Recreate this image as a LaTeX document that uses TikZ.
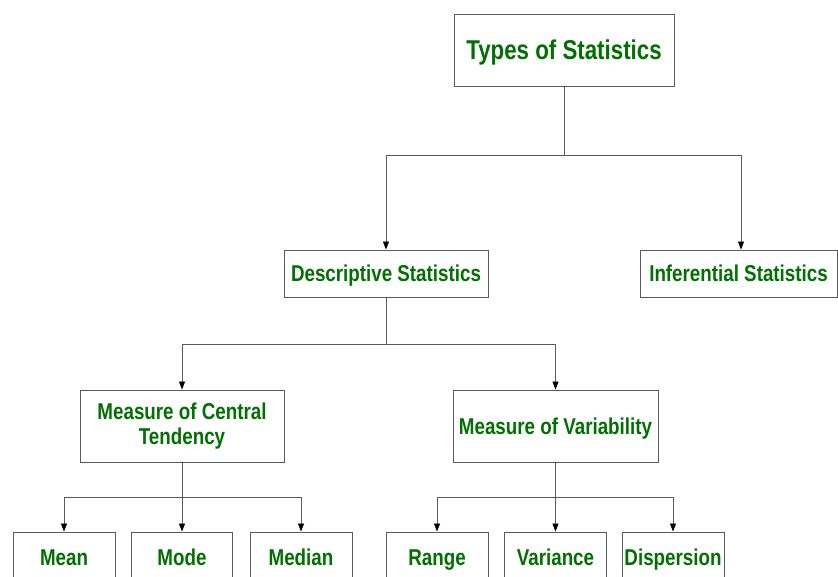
\documentclass[tikz,border=0pt]{standalone}
\usepackage{fontspec}
\newfontfamily\boxfont{Liberation Sans}[FakeStretch=0.82]
\usetikzlibrary{arrows.meta}
\definecolor{tgreen}{RGB}{0,112,0}
\definecolor{lgray}{RGB}{90,90,90}
\tikzset{
  box/.style={draw=lgray, line width=0.9pt, fill=white, text=tgreen,
    font=\boxfont\bfseries\fontsize{22.9}{25}\selectfont, align=center, inner sep=0pt},
  one/.style={text height=16.4pt, text depth=0pt},
  conn/.style={draw=lgray, line width=0.8pt},
  arr/.style={conn, -{Triangle[length=8pt,width=6pt,color=black]}}
}
\begin{document}
\begin{tikzpicture}[x=1pt,y=-1pt]
\useasboundingbox (0,0) rectangle (838,577);
% nodes
\node[box, minimum width=220, minimum height=72, text height=19.5pt, text depth=0pt, font=\boxfont\bfseries\fontsize{27.2}{30}\selectfont] (types) at (564,50) {Types of Statistics};
\node[box, one, minimum width=204, minimum height=47] (desc) at (386,273.5) {Descriptive Statistics};
\node[box, one, minimum width=197, minimum height=47] (inf) at (738.5,273.5) {Inferential Statistics};
\node[box, minimum width=204, minimum height=72] (cent) at (182,426) {Measure of Central\\Tendency};
\node[box, one, minimum width=205, minimum height=72] (var) at (555.5,426) {Measure of Variability};
\node[box, one, minimum width=102, minimum height=50] (mean) at (64,557) {Mean};
\node[box, one, minimum width=101, minimum height=50] (mode) at (182,557) {Mode};
\node[box, one, minimum width=102, minimum height=50] (median) at (301,557) {Median};
\node[box, one, minimum width=102, minimum height=50] (range) at (437,557) {Range};
\node[box, one, minimum width=102, minimum height=50] (variance) at (555.5,557) {Variance};
\node[box, one, minimum width=102, minimum height=50] (disp) at (673,557) {Dispersion};
% junctions
\coordinate (j1) at (564,155);
\coordinate (j2) at (386,344);
\coordinate (j3) at (182,497);
\coordinate (j4) at (555.5,497);
% connectors
\draw[conn] (types.south) -- (j1);
\draw[arr] (j1) -| (desc.north);
\draw[arr] (j1) -| ([xshift=2.5pt]inf.north);
\draw[conn] (desc.south) -- (j2);
\draw[arr] (j2) -| (cent.north);
\draw[arr] (j2) -| (var.north);
\draw[arr] (cent.south) -- (mode.north);
\draw[arr] (j3) -| (mean.north);
\draw[arr] (j3) -| (median.north);
\draw[arr] (var.south) -- (variance.north);
\draw[arr] (j4) -| (range.north);
\draw[arr] (j4) -| (disp.north);
\end{tikzpicture}
\end{document}
